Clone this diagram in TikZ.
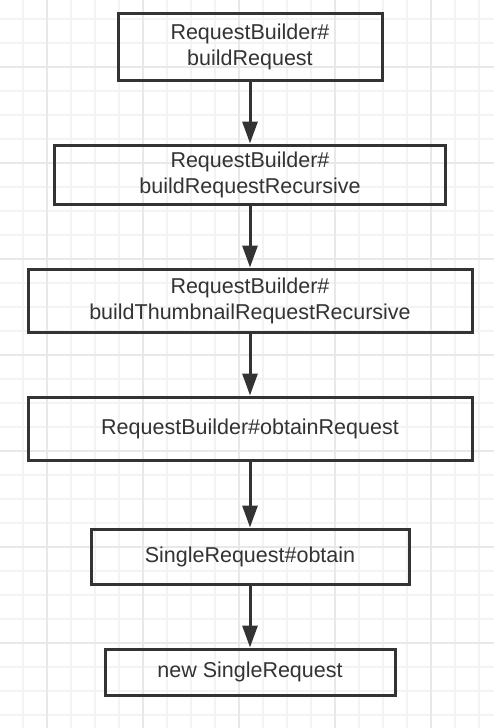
\documentclass[tikz,border=0pt]{standalone}
\usepackage{fontspec}
\setmainfont{Liberation Sans}
\usetikzlibrary{arrows.meta,positioning}
\definecolor{inkgray}{HTML}{333333}
\definecolor{gridminor}{HTML}{F3F3F3}
\definecolor{gridmajor}{HTML}{E8E8E8}

\begin{document}
\begin{tikzpicture}[x=1pt,y=1pt,
  callbox/.style={draw=inkgray,line width=3pt,text=inkgray,align=center,
    inner sep=0pt,font=\fontsize{21.5}{26}\selectfont},
  flow/.style={draw=inkgray,line width=3pt,-{Triangle[length=22pt,width=15pt]}},
  node distance=62pt]
\useasboundingbox (0,0) rectangle (494,-728);
\fill[white] (0,0) rectangle (494,-728);
% background grid
\foreach \x in {23,47,...,479} \draw[gridminor,line width=1.2pt] (\x,0)--(\x,-728);
\foreach \y in {19,43,...,715} \draw[gridminor,line width=1.2pt] (0,-\y)--(494,-\y);
\foreach \x in {47,143,...,431} \draw[gridmajor,line width=2pt] (\x,0)--(\x,-728);
\foreach \y in {67,163,...,643} \draw[gridmajor,line width=2pt] (0,-\y)--(494,-\y);
% call chain
\node[callbox,minimum width=264pt,minimum height=67pt] (build) at (250,-46.5)
  {RequestBuilder\#\\buildRequest};
\node[callbox,minimum width=391pt,minimum height=59pt,below=of build] (recur)
  {RequestBuilder\#\\buildRequestRecursive};
\node[callbox,minimum width=444pt,minimum height=63pt,below=of recur] (thumb)
  {RequestBuilder\#\\buildThumbnailRequestRecursive};
\node[callbox,minimum width=444pt,minimum height=63pt,below=of thumb] (obtainreq)
  {RequestBuilder\#obtainRequest};
\node[callbox,minimum width=318pt,minimum height=55pt,below=66pt of obtainreq] (obtain)
  {SingleRequest\#obtain};
\node[callbox,minimum width=290pt,minimum height=46pt,below=of obtain] (single)
  {new SingleRequest};
\draw[flow] (build.south) -- (recur.north);
\draw[flow] (recur.south) -- (thumb.north);
\draw[flow] (thumb.south) -- (obtainreq.north);
\draw[flow] (obtainreq.south) -- (obtain.north);
\draw[flow] (obtain.south) -- (single.north);
\end{tikzpicture}
\end{document}
